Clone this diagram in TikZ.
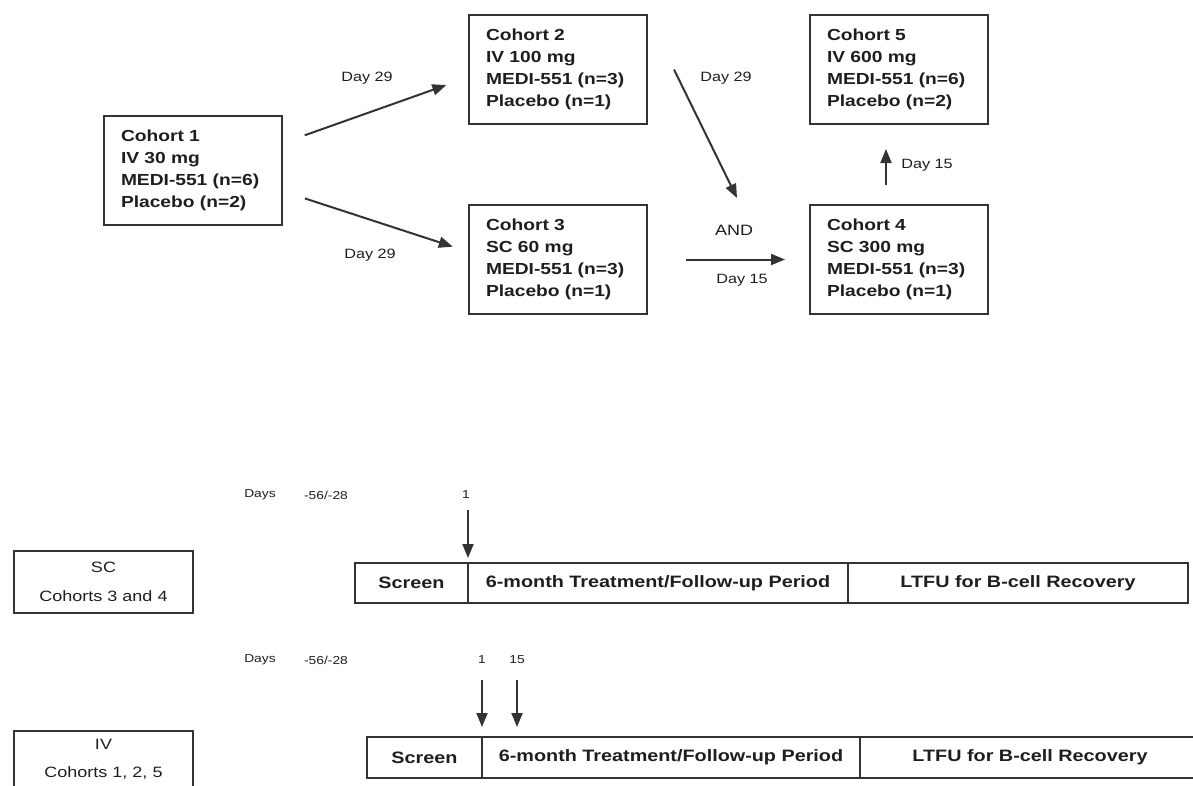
\documentclass[tikz,border=0pt]{standalone}
\usepackage{fontspec}
\setmainfont{Liberation Sans}[FakeStretch=1.2]
\usetikzlibrary{arrows.meta}
\usetikzlibrary{positioning}

\definecolor{boxGrey}{HTML}{333333}
\definecolor{inkGrey}{HTML}{1E1E1E}

\tikzset{
	cohortBox/.style={draw=boxGrey, line width=2pt, anchor=north west, minimum width=178pt, minimum height=109pt, text width=144pt, inner xsep=17pt, inner ysep=0pt, align=left, text=inkGrey, font=\fontsize{16}{22}\selectfont\bfseries},
	phaseBox/.style={draw=boxGrey, line width=1.8pt, minimum height=40pt, inner sep=0pt, outer sep=0pt, text=inkGrey, font=\fontsize{16.5}{18}\selectfont\bfseries},
	groupBox/.style={draw=boxGrey, line width=2pt, anchor=north west, minimum width=179pt, inner sep=0pt, align=center, text=inkGrey},
	dayLabel/.style={inner sep=1pt, text=inkGrey, font=\fontsize{13.5}{16}\selectfont},
	daysLabel/.style={inner sep=1pt, text=inkGrey, font=\fontsize{11.5}{13}\selectfont},
	flow/.style={-{Triangle[length=14pt,width=11pt]}, line width=2pt, draw=boxGrey},
}

\begin{document}
\begin{tikzpicture}[x=1pt,y=-1pt]

	%page frame, same size as the reference
	\path[use as bounding box] (0,0) rectangle (1193,785);
	\clip (0,0) rectangle (1193,785);

	%dose escalation scheme
	\node[cohortBox] (cohort1) at (103,115) {Cohort 1\\IV 30 mg\\MEDI-551 (n=6)\\Placebo (n=2)};
	\node[cohortBox] (cohort2) at (468,14) {Cohort 2\\IV 100 mg\\MEDI-551 (n=3)\\Placebo (n=1)};
	\node[cohortBox] (cohort3) at (468,204) {Cohort 3\\SC 60 mg\\MEDI-551 (n=3)\\Placebo (n=1)};
	\node[cohortBox] (cohort5) at (809,14) {Cohort 5\\IV 600 mg\\MEDI-551 (n=6)\\Placebo (n=2)};
	\node[cohortBox] (cohort4) at (809,204) {Cohort 4\\SC 300 mg\\MEDI-551 (n=3)\\Placebo (n=1)};
	\coordinate (andJoin) at (737,198);

	%escalation arrows
	\draw[flow, shorten <=23pt, shorten >=23pt] (cohort1.17) -- (cohort2.185);
	\draw[flow, shorten <=23pt, shorten >=16pt] (cohort1.347) -- (cohort3.175);
	\draw[flow] ([xshift=26pt]cohort2.east) -- (andJoin);
	\draw[flow, shorten <=38pt, shorten >=24pt] (cohort3.east) -- (cohort4.west);
	\draw[flow, shorten <=19pt, shorten >=24pt] ([xshift=-13pt]cohort4.north) -- ([xshift=-13pt]cohort5.south);

	%escalation labels
	\node[dayLabel] (c1c2Label) at (367,78) {Day 29};
	\node[dayLabel] (c1c3Label) at (370,255) {Day 29};
	\node[dayLabel] (c2c4Label) at (726,78) {Day 29};
	\node[dayLabel, font=\fontsize{15}{18}\selectfont] (andLabel) at (734,230) {AND};
	\node[dayLabel] (c3c4Label) at (742,280) {Day 15};
	\node[dayLabel] (c4c5Label) at (927,165) {Day 15};

	%SC timeline
	\node[groupBox, minimum height=62pt, font=\fontsize{15}{29}\selectfont] (scGroup) at (13,550) {SC\\Cohorts 3 and 4};
	\node[daysLabel] (scDays) at (260,495) {Days};
	\node[daysLabel] (scWindow) at (326,495) {-56/-28};
	\node[daysLabel] (scDayOne) at (466,495) {1};
	\node[phaseBox, anchor=north west, minimum width=113pt] (scScreen) at (355,563) {Screen};
	\node[phaseBox, minimum width=380pt, right=0pt of scScreen] (scTreat) {6-month Treatment/Follow-up Period};
	\node[phaseBox, minimum width=340pt, right=0pt of scTreat] (scLtfu) {LTFU for B-cell Recovery};
	\draw[flow, shorten <=10pt, shorten >=5pt] (scDayOne.south -| scTreat.north west) -- (scTreat.north west);

	%IV timeline
	\node[groupBox, minimum height=57pt, font=\fontsize{15}{28}\selectfont] (ivGroup) at (13,730) {IV\\Cohorts 1, 2, 5};
	\node[daysLabel] (ivDays) at (260,660) {Days};
	\node[daysLabel] (ivWindow) at (326,660) {-56/-28};
	\node[daysLabel] (ivDayOne) at (482,660) {1};
	\node[daysLabel] (ivDayFifteen) at (517,660) {15};
	\node[phaseBox, anchor=north west, minimum width=115pt, minimum height=41pt] (ivScreen) at (367,737) {Screen};
	\node[phaseBox, minimum width=378pt, minimum height=41pt, right=0pt of ivScreen] (ivTreat) {6-month Treatment/Follow-up Period};
	\node[phaseBox, minimum width=340pt, minimum height=41pt, right=0pt of ivTreat] (ivLtfu) {LTFU for B-cell Recovery};
	\draw[flow, shorten <=15pt, shorten >=10pt] (ivDayOne.south -| ivTreat.north west) -- (ivTreat.north west);
	\draw[flow, shorten <=15pt, shorten >=10pt] (ivDayFifteen.south) -- (ivDayFifteen.south |- ivTreat.north);

\end{tikzpicture}
\end{document}
